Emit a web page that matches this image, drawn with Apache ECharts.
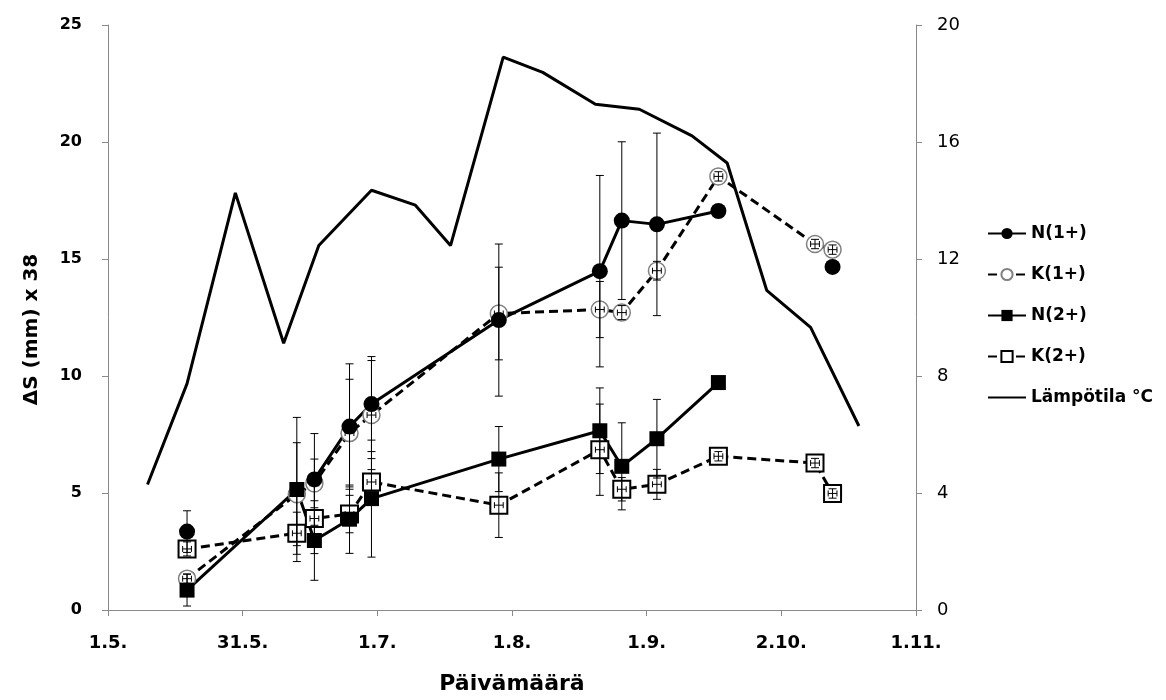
<!DOCTYPE html>
<html>
<head>
<meta charset="utf-8">
<script src="https://cdn.jsdelivr.net/npm/echarts@6/dist/echarts.min.js"></script>
<style>
html, body { margin: 0; padding: 0; background: #fff; }
#chart { width: 1166px; height: 700px; }
</style>
</head>
<body>
<div id="chart"></div>
<script>
// päivämäärät muodossa 'p.k.'
const tickLabels = ['1.5.', '31.5.', '1.7.', '1.8.', '1.9.', '2.10.', '1.11.']
const sampleDates = ['19.5.', '13.6.', '17.6.', '25.6.', '30.6.', '29.7.', '21.8.', '26.8.', '3.9.', '17.9.', '9.10.', '13.10.']

const n1 = [3.35, null, 5.58, 7.84, 8.80, 12.39, 14.48, 16.64, 16.48, 17.05, null, 14.66]
const k1 = [1.34, 4.95, 5.41, 7.56, 8.33, 12.67, 12.84, 12.71, 14.50, 18.53, 15.64, 15.40]
const n2 = [0.85, 5.15, 2.97, 3.88, 4.76, 6.45, 7.66, 6.14, 7.32, 9.72, null, null]
const k2 = [2.61, 3.28, 3.91, 4.10, 5.47, 4.48, 6.85, 5.16, 5.37, 6.57, 6.28, 4.98]

// virhepalkit (±)
const n1Err = [0.89, null, 1.96, 2.68, 2.03, 3.25, 4.09, 3.37, 3.90, 0, null, 0]
const k1Err = [0.20, 2.20, 1.04, 2.30, 2.33, 1.98, 1.20, 0.30, 0.40, 0.20, 0.20, 0.20]
const n2Err = [0.68, 3.08, 1.70, 1.46, 2.50, 1.39, 1.83, 1.86, 1.68, 0, null, null]
const k2Err = [0.30, 0.90, 1.50, 0.80, 1.00, 1.38, 1.95, 0.50, 0.64, 0.20, 0.20, 0.20]
const dayErr = 1

const tempDates = ['10.5.', '19.5.', '30.5.', '10.6.', '18.6.', '30.6.', '10.7.', '18.7.', '30.7.', '8.8.', '20.8.', '30.8.', '11.9.', '19.9.', '28.9.', '8.10.', '19.10.']
const temps = [4.29, 7.74, 14.26, 9.12, 12.46, 14.35, 13.84, 12.46, 18.90, 18.38, 17.29, 17.12, 16.21, 15.28, 10.93, 9.66, 6.29]

const MONTH_START = { 5: 0, 6: 31, 7: 61, 8: 92, 9: 123, 10: 153, 11: 184 }
const DAYS_PER_TICK = 184 / 6

function xOf(s) {
  const [d, m] = s.split('.').map(Number)
  return (MONTH_START[m] + d - 1) / DAYS_PER_TICK
}

function pts(dates, vals) {
  return dates.map((d, i) => [xOf(d), vals[i] == null ? '-' : vals[i]])
}

const errStyle = { stroke: '#000', lineWidth: 1 }

function yErrSeries(vals, errs) {
  const data = []
  sampleDates.forEach((d, i) => {
    if (vals[i] == null || !errs[i]) return
    data.push([xOf(d), vals[i] - errs[i], vals[i] + errs[i]])
  })
  return {
    type: 'custom', silent: true, z: 4, data,
    encode: { x: 0, y: [1, 2] },
    renderItem: (params, api) => {
      const lo = api.coord([api.value(0), api.value(1)])
      const hi = api.coord([api.value(0), api.value(2)])
      return { type: 'group', children: [
        { type: 'line', shape: { x1: lo[0], y1: lo[1], x2: hi[0], y2: hi[1] }, style: errStyle },
        { type: 'line', shape: { x1: lo[0] - 4, y1: lo[1], x2: lo[0] + 4, y2: lo[1] }, style: errStyle },
        { type: 'line', shape: { x1: hi[0] - 4, y1: hi[1], x2: hi[0] + 4, y2: hi[1] }, style: errStyle },
      ] }
    },
  }
}

function xErrSeries(vals) {
  const data = []
  sampleDates.forEach((d, i) => {
    if (vals[i] == null) return
    data.push([xOf(d), vals[i]])
  })
  return {
    type: 'custom', silent: true, z: 4, data,
    encode: { x: 0, y: 1 },
    renderItem: (params, api) => {
      const dx = dayErr / DAYS_PER_TICK
      const a = api.coord([api.value(0) - dx, api.value(1)])
      const b = api.coord([api.value(0) + dx, api.value(1)])
      return { type: 'group', children: [
        { type: 'line', shape: { x1: a[0], y1: a[1], x2: b[0], y2: b[1] }, style: errStyle },
        { type: 'line', shape: { x1: a[0], y1: a[1] - 3, x2: a[0], y2: a[1] + 3 }, style: errStyle },
        { type: 'line', shape: { x1: b[0], y1: b[1] - 3, x2: b[0], y2: b[1] + 3 }, style: errStyle },
      ] }
    },
  }
}

const chart = echarts.init(document.getElementById('chart'))
const axisGray = '#898989'
const font = 'DejaVu Sans'

chart.setOption({
  animation: false,
  grid: { left: 108, right: 250, top: 25, bottom: 85 },
  legend: {
    data: ['N(1+)', 'K(1+)', 'N(2+)', 'K(2+)', { name: 'Lämpötila °C', itemStyle: { opacity: 0 } }],
    orient: 'vertical',
    left: 982,
    top: 220,
    itemWidth: 38,
    itemHeight: 14,
    itemGap: 24,
    textStyle: { fontFamily: font, fontWeight: 'bold', fontSize: 17, color: '#000' },
  },
  xAxis: {
    type: 'value',
    min: 0,
    max: 6,
    interval: 1,
    name: 'Päivämäärä',
    nameLocation: 'middle',
    nameGap: 63,
    nameTextStyle: { fontFamily: font, fontWeight: 'bold', fontSize: 22, color: '#000' },
    axisLine: { lineStyle: { color: axisGray } },
    axisTick: { length: 6, lineStyle: { color: axisGray } },
    splitLine: { show: false },
    axisLabel: {
      margin: 24,
      fontFamily: font, fontWeight: 'bold', fontSize: 18, color: '#000',
      formatter: v => tickLabels[Math.round(v)],
    },
  },
  yAxis: [
    {
      type: 'value',
      min: 0,
      max: 25,
      interval: 5,
      name: 'ΔS (mm) x 38',
      nameLocation: 'middle',
      nameGap: 66,
      nameTextStyle: { fontFamily: font, fontWeight: 'bold', fontSize: 20, color: '#000', padding: [0, 24, 0, 0] },
      axisLine: { show: true, lineStyle: { color: axisGray } },
      axisTick: { show: true, length: 6, lineStyle: { color: axisGray } },
      splitLine: { show: false },
      axisLabel: { margin: 26, fontFamily: font, fontWeight: 'bold', fontSize: 16, color: '#000' },
    },
    {
      type: 'value',
      position: 'right',
      min: 0,
      max: 20,
      interval: 4,
      axisLine: { show: true, lineStyle: { color: axisGray } },
      axisTick: { show: true, length: 6, lineStyle: { color: axisGray } },
      splitLine: { show: false },
      axisLabel: { margin: 21, fontFamily: font, fontSize: 18, color: '#000' },
    },
  ],
  series: [
    {
      name: 'Lämpötila °C', type: 'line', yAxisIndex: 1, symbol: 'none',
      data: pts(tempDates, temps),
      lineStyle: { color: '#000', width: 3 }, itemStyle: { color: '#000' },
    },
    {
      name: 'K(1+)', type: 'line', data: pts(sampleDates, k1),
      symbol: 'circle', symbolSize: 17, connectNulls: false,
      lineStyle: { color: '#000', width: 3, type: [9, 5] },
      itemStyle: { color: '#fff', borderColor: '#808080', borderWidth: 1.5 },
    },
    {
      name: 'N(1+)', type: 'line', data: pts(sampleDates, n1),
      symbol: 'circle', symbolSize: 16, connectNulls: false,
      lineStyle: { color: '#000', width: 3 },
      itemStyle: { color: '#000' },
    },
    {
      name: 'K(2+)', type: 'line', data: pts(sampleDates, k2),
      symbol: 'rect', symbolSize: 17, connectNulls: false,
      lineStyle: { color: '#000', width: 3, type: [9, 5] },
      itemStyle: { color: '#fff', borderColor: '#000', borderWidth: 2 },
    },
    {
      name: 'N(2+)', type: 'line', data: pts(sampleDates, n2),
      symbol: 'rect', symbolSize: 15, connectNulls: false,
      lineStyle: { color: '#000', width: 3 },
      itemStyle: { color: '#000' },
    },
    yErrSeries(n1, n1Err),
    yErrSeries(k1, k1Err),
    yErrSeries(n2, n2Err),
    yErrSeries(k2, k2Err),
    xErrSeries(k1),
    xErrSeries(k2),
  ],
})
</script>
</body>
</html>
